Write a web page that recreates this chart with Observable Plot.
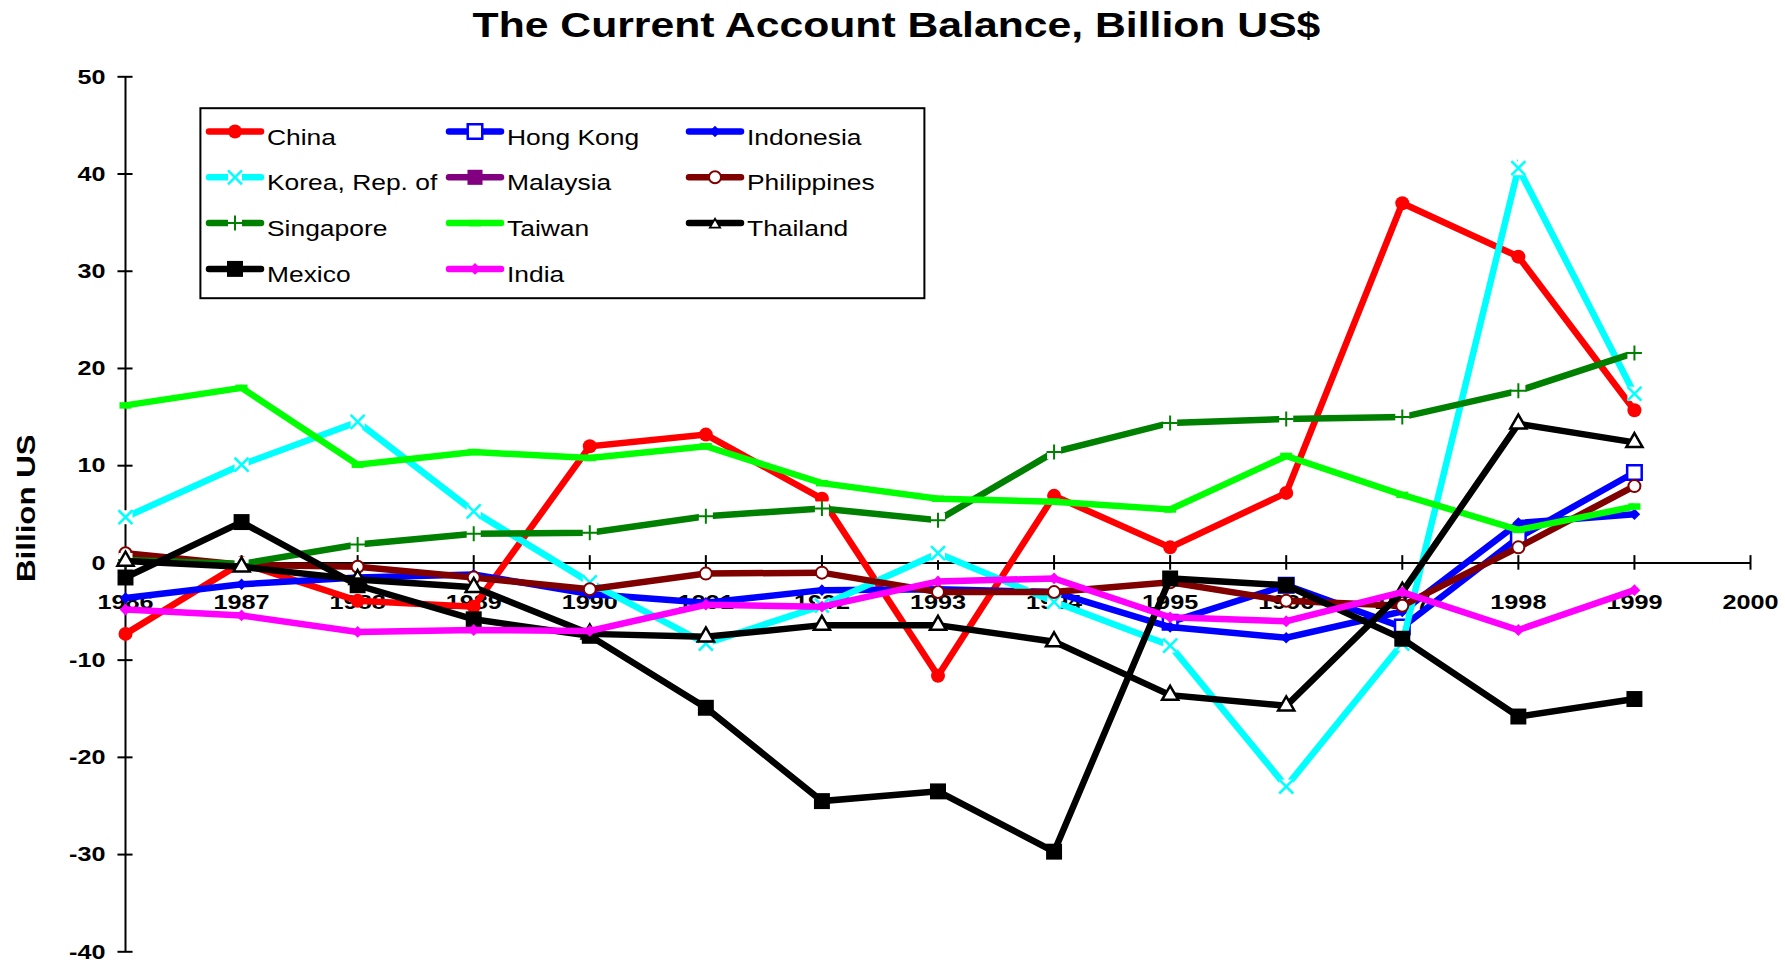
<!DOCTYPE html>
<html><head><meta charset="utf-8">
<script src="https://cdn.jsdelivr.net/npm/d3@7"></script>
<script src="https://cdn.jsdelivr.net/npm/@observablehq/plot@0.6"></script>
<style>
body{margin:0;background:#fff;font-family:"Liberation Sans",Arial,sans-serif;}
#wrap{position:relative;width:1785px;height:965px;overflow:hidden;background:#fff;}
#title{height:55px;line-height:50px;text-align:center;font-weight:bold;font-size:35px;padding-left:7px;box-sizing:border-box;color:#000;}
#title span{display:inline-block;transform:scaleX(1.22);}
#chart svg text{font-family:"Liberation Sans",Arial,sans-serif;font-weight:bold;font-size:21px;}
#legend,#ylabel{position:absolute;}
</style></head><body>
<div id="wrap">
  <div id="title"><span>The Current Account Balance, Billion US$</span></div>
  <div id="chart"></div>
  <svg id="legend" width="730" height="196" style="left:199px;top:107px"></svg>
  <svg id="ylabel" width="50" height="146" style="left:0px;top:436px"></svg>
</div>
<script>
// ---- data ----
const years = [1986,1987,1988,1989,1990,1991,1992,1993,1994,1995,1996,1997,1998,1999];
const axisYears = [1986,1987,1988,1989,1990,1991,1992,1993,1994,1995,1996,1997,1998,1999,2000];
const yTicks = [-40,-30,-20,-10,0,10,20,30,40,50];
const seriesNames = ["China","Hong Kong","Indonesia","Korea, Rep. of","Malaysia","Philippines","Singapore","Taiwan","Thailand","Mexico","India"];
const china       = [-7.3, 0.0, -3.9, -4.5, 12.0, 13.2, 6.6, -11.6, 6.9, 1.6, 7.2, 37.0, 31.5, 15.7];
const hongKong    = [null, null, null, null, null, null, null, null, null, -6.1, -2.3, -6.6, 2.6, 9.3];
const indonesia   = [-3.6, -2.2, -1.5, -1.2, -3.2, -4.1, -2.8, -2.7, -3.0, -6.6, -7.7, -5.0, 4.1, 5.0];
const korea       = [4.7, 10.1, 14.5, 5.3, -2.0, -8.3, -4.4, 1.0, -4.0, -8.5, -23.0, -8.3, 40.6, 17.4];
const malaysia    = [null, null, null, null, null, null, null, null, null, null, null, null, null, null];
const philippines = [1.0, -0.2, -0.4, -1.5, -2.7, -1.1, -1.0, -3.0, -3.0, -2.0, -3.9, -4.4, 1.6, 7.9];
const singapore   = [0.3, -0.1, 1.9, 3.0, 3.1, 4.8, 5.6, 4.4, 11.4, 14.4, 14.8, 15.0, 17.7, 21.6];
const taiwan      = [16.2, 18.0, 10.1, 11.4, 10.8, 12.0, 8.2, 6.6, 6.3, 5.5, 11.0, 7.0, 3.4, 5.8];
const thailand    = [0.2, -0.4, -1.7, -2.5, -7.3, -7.6, -6.4, -6.4, -8.1, -13.6, -14.7, -3.0, 14.3, 12.4];
const mexico      = [-1.5, 4.2, -2.3, -5.8, -7.5, -14.9, -24.5, -23.5, -29.7, -1.6, -2.3, -7.8, -15.8, -14.0];
const india       = [-4.8, -5.4, -7.1, -6.9, -7.0, -4.3, -4.5, -1.9, -1.6, -5.6, -6.0, -3.0, -6.9, -2.8];
const seriesValues = [china, hongKong, indonesia, korea, malaysia, philippines, singapore, taiwan, thailand, mexico, india];

// ---- styles ----
const dash = {draw(ctx, size){ const r = Math.sqrt(size/Math.PI); ctx.moveTo(-r,0); ctx.lineTo(r,0);} };
const styles = [
  {color:"#FF0000", symbol:"circle",   r:7,   fill:"#FF0000", stroke:"none",    sw:0},
  {color:"#0000FF", symbol:"square",   r:8.2, fill:"#FFFFFF", stroke:"#0000FF", sw:2.5},
  {color:"#0000FF", symbol:"diamond2", r:5.2, fill:"#0000FF", stroke:"none",    sw:0},
  {color:"#00FFFF", symbol:"times",    r:6.4, fill:"none",    stroke:"#00FFFF", sw:2.5, gap:true},
  {color:"#800080", symbol:"square",   r:8.5, fill:"#800080", stroke:"none",    sw:0},
  {color:"#800000", symbol:"circle",   r:6,   fill:"#FFFFFF", stroke:"#800000", sw:2},
  {color:"#008000", symbol:"plus",     r:4.9, fill:"none",    stroke:"#008000", sw:2, gap:true},
  {color:"#00FF00", symbol:dash,       r:6,   fill:"none",    stroke:"#00FF00", sw:6.5},
  {color:"#000000", symbol:"triangle", r:6,   fill:"#FFFFFF", stroke:"#000000", sw:2.5, legendR:3.8},
  {color:"#000000", symbol:"square",   r:9,   fill:"#000000", stroke:"none",    sw:0},
  {color:"#FF00FF", symbol:"diamond2", r:5.3, fill:"#FF00FF", stroke:"none",    sw:0}
];

// ---- plot ----
const marks = [
  Plot.ruleY([0], {stroke:"black", strokeWidth:2}),
  Plot.ruleX([1986], {stroke:"black", strokeWidth:2}),
  Plot.ruleX(axisYears, {x:d=>d, y1:-0.75, y2:0.75, stroke:"black", strokeWidth:2}),
  Plot.ruleY(yTicks, {y:d=>d, x1:1986-0.065, x2:1986+0.065, stroke:"black", strokeWidth:2}),
  Plot.text(yTicks, {x:()=>1986, y:d=>d, dx:-20, textAnchor:"end", text:d=>String(d), fill:"black"}),
  Plot.text(axisYears, {x:d=>d, y:()=>0, dy:39, text:d=>String(d), fill:"black"})
];
seriesNames.forEach((name, i) => {
  const st = styles[i];
  const data = years.map((x, j) => ({x, y: seriesValues[i][j]})).filter(d => d.y != null);
  if (!data.length) return;
  marks.push(Plot.line(data, {x:"x", y:"y", stroke:st.color, strokeWidth:6.5, strokeLinejoin:"miter", strokeMiterlimit:4, strokeLinecap:"butt"}));
  if (st.gap) marks.push(Plot.dot(data, {x:"x", y:"y", symbol:"square", r:7.9, fill:"white", stroke:"none"}));
  marks.push(Plot.dot(data, {x:"x", y:"y", symbol:st.symbol, r:st.r, fill:st.fill, stroke:st.stroke, strokeWidth:st.sw}));
});

const plot = Plot.plot({
  width:1785, height:910,
  marginLeft:125, marginRight:35, marginTop:21.3, marginBottom:13.7,
  x:{type:"linear", domain:[1986,2000], axis:null},
  y:{type:"linear", domain:[-40,50], axis:null},
  style:{background:"white", fontFamily:"Liberation Sans"},
  marks
});
document.getElementById("chart").appendChild(plot);
plot.querySelectorAll("text").forEach(t => {
  const L = t.getComputedTextLength();
  if (L > 0) { t.setAttribute("textLength", (L*1.2).toFixed(1)); t.setAttribute("lengthAdjust","spacingAndGlyphs"); }
});

// ---- legend ----
const symMap = {circle:d3.symbolCircle, square:d3.symbolSquare, diamond2:d3.symbolDiamond2 || d3.symbolDiamond, times:d3.symbolTimes, plus:d3.symbolPlus, triangle:d3.symbolTriangle};
const lg = d3.select("#legend");
lg.append("rect").attr("x",1.4).attr("y",1.2).attr("width",724).attr("height",190)
  .attr("fill","white").attr("stroke","black").attr("stroke-width",2);
seriesNames.forEach((name, i) => {
  const st = styles[i];
  const col = i % 3, row = Math.floor(i / 3);
  const x0 = 7 + col*240, y0 = 24.5 + row*45.8;
  const g = lg.append("g");
  g.append("line").attr("x1",x0+3).attr("x2",x0+55).attr("y1",y0).attr("y2",y0)
    .attr("stroke",st.color).attr("stroke-width",6.5).attr("stroke-linecap","round");
  const type = typeof st.symbol === "string" ? symMap[st.symbol] : st.symbol;
  const lr = st.legendR || st.r;
  if (st.gap) g.append("path").attr("transform",`translate(${x0+29},${y0})`)
    .attr("d", d3.symbol(d3.symbolSquare, Math.PI*7.9*7.9)()).attr("fill","white");
  g.append("path").attr("transform",`translate(${x0+29},${y0 + (st.legendR ? 1.5 : 0)})`)
    .attr("d", d3.symbol(type, Math.PI*lr*lr)())
    .attr("fill", st.fill).attr("stroke", st.stroke === "none" ? null : st.stroke)
    .attr("stroke-width", st.legendR ? 1.8 : st.sw);
  const t = g.append("text").attr("x",x0+61).attr("y",y0+13).text(name)
    .attr("font-family","Liberation Sans, Arial, sans-serif").attr("font-size",22).attr("fill","black");
  const L = t.node().getComputedTextLength();
  t.attr("textLength",(L*1.2).toFixed(1)).attr("lengthAdjust","spacingAndGlyphs");
});

// ---- y label ----
const yl = d3.select("#ylabel").append("text").attr("transform","translate(35,146) rotate(-90)")
  .attr("font-family","Liberation Sans, Arial, sans-serif").attr("font-size",25).attr("font-weight","bold")
  .attr("fill","black").text("Billion US$");
const YL = yl.node().getComputedTextLength();
yl.attr("textLength",(YL*1.25).toFixed(1)).attr("lengthAdjust","spacingAndGlyphs");
</script>
</body></html>
